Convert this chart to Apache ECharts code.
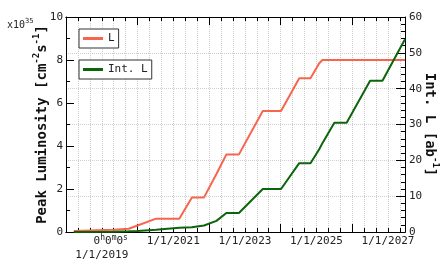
<!DOCTYPE html>
<html><head><meta charset="utf-8">
<script src="https://cdn.jsdelivr.net/npm/echarts@6/dist/echarts.min.js"></script>
<style>html,body{margin:0;padding:0;background:#fff}#c{width:447px;height:273px}</style>
</head><body><div id="c"></div>
<script>
// ---- data ----
const dates = ['2018-03-20','2019-05-05','2019-10-01','2020-01-01','2020-07-08','2021-03-01','2021-07-08','2021-11-10','2022-03-15','2022-06-25','2022-11-01','2023-07-01','2024-01-05','2024-07-08','2024-11-01','2025-01-30','2025-03-01','2025-07-01','2025-11-05','2026-07-01','2026-11-05','2027-06-22'];
const peakL = [0.05,0.10,0.15,0.30,0.62,0.62,1.61,1.61,2.70,3.61,3.61,5.63,5.63,7.15,7.15,7.85,8.00,8.00,8.00,8.00,8.00,8.00];
const intL  = [0.0,0.05,0.2,0.3,0.6,1.2,1.3,1.8,3.1,5.3,5.3,12.0,12.0,19.2,19.2,23.1,24.8,30.5,30.5,42.2,42.2,53.8];
const xStart = '2018-01-01';
const xEnd = '2027-06-22';
const xLabelYears = [2019, 2021, 2023, 2025, 2027];
const leftAxis = {min: 0, max: 10, interval: 2};
const rightAxis = {min: 0, max: 60, interval: 10};

const FONT = 'DejaVu Sans Mono';
function toMonths(s){
  const [y,m,d] = s.split('-').map(Number);
  const dim = new Date(Date.UTC(y, m, 0)).getUTCDate();
  return (y - 2019) * 12 + (m - 1) + (d - 1) / dim;
}
const xMin = toMonths(xStart), xMax = toMonths(xEnd);
const labelMonths = xLabelYears.map(y => (y - 2019) * 12);

const chart = echarts.init(document.getElementById('c'));
const axisLine = {show: true, onZero: false, lineStyle: {color: '#000', width: 1}};
const tickStyle = {color: '#000', width: 1};
const gridLine = {type: 'dotted', color: '#cfcfcf', width: 1};
const labRich = {
  t: {fontFamily: FONT, fontSize: 11, lineHeight: 14, color: '#222'},
  s: {fontFamily: FONT, fontSize: 8, lineHeight: 9, verticalAlign: 'top', color: '#222'},
  pad: {width: 18, fontSize: 11, lineHeight: 14}
};
function xFmt(v){
  const idx = labelMonths.findIndex(m => Math.abs(m - v) < 1e-6);
  if (idx < 0) return '';
  const y = xLabelYears[idx];
  if (idx === 0) return '{pad| }{t|0}{s|h}{t|0}{s|m}{t|0}{s|s}\n{t|1/1/' + y + '}';
  return '{t|1/1/' + y + '}';
}
function xAx(pos, interval, len, labels, split){
  return {
    type: 'value', position: pos, min: xMin, max: xMax, interval: interval,
    axisLine: axisLine,
    axisTick: {show: true, inside: true, length: len, lineStyle: tickStyle},
    axisLabel: labels ? {show: true, formatter: xFmt, rich: labRich, margin: 2, color: '#222'} : {show: false},
    splitLine: split ? {show: true, lineStyle: gridLine} : {show: false}
  };
}
const nameRich = {
  a: {fontFamily: FONT, fontSize: 14, fontWeight: 'bold', lineHeight: 20, color: '#111'},
  sup: {fontFamily: FONT, fontSize: 9, fontWeight: 'bold', lineHeight: 11, verticalAlign: 'top', color: '#111'}
};
const option = {
  animation: false,
  backgroundColor: '#fff',
  grid: {left: 66, right: 42, top: 17, bottom: 41, containLabel: false, outerBoundsMode: 'none'},
  legend: [
    {data: ['L'], left: 79, top: 29, orient: 'vertical', icon: 'rect', itemWidth: 20, itemHeight: 3,
     borderColor: '#333', borderWidth: 1, backgroundColor: '#fff', padding: [4, 4, 4, 4],
     textStyle: {fontFamily: FONT, fontSize: 11, color: '#222'}},
    {data: ['Int. L'], left: 79, top: 60, orient: 'vertical', icon: 'rect', itemWidth: 20, itemHeight: 3,
     borderColor: '#333', borderWidth: 1, backgroundColor: '#fff', padding: [4, 4, 4, 4],
     textStyle: {fontFamily: FONT, fontSize: 11, color: '#222'}}
  ],
  xAxis: [
    xAx('bottom', 4, 4, true, true),
    xAx('bottom', 24, 8, false, false),
    xAx('top', 4, 4, false, false),
    xAx('top', 24, 8, false, false)
  ],
  yAxis: [
    {type: 'value', position: 'left', min: leftAxis.min, max: leftAxis.max, interval: leftAxis.interval,
     axisLine: axisLine,
     axisTick: {show: true, inside: true, length: 8, lineStyle: tickStyle},
     minorTick: {show: true, splitNumber: 2, length: 4, lineStyle: tickStyle},
     axisLabel: {fontFamily: FONT, fontSize: 11, color: '#222', margin: 3},
     splitLine: {show: false},
     name: '{a|Peak Luminosity [cm}{sup|-2}{a|s}{sup|-1}{a|]}', nameLocation: 'middle', nameGap: 14, nameRotate: 90,
     nameMoveOverlap: false,
     nameTextStyle: {rich: nameRich}},
    {type: 'value', position: 'right', min: rightAxis.min, max: rightAxis.max, interval: rightAxis.interval,
     axisLine: axisLine,
     axisTick: {show: true, inside: true, length: 9, lineStyle: tickStyle},
     minorTick: {show: true, splitNumber: 5, length: 4, lineStyle: tickStyle},
     axisLabel: {fontFamily: FONT, fontSize: 11, color: '#222', margin: 4},
     splitLine: {show: true, lineStyle: gridLine},
     name: '{a|Int. L [ab}{sup|-1}{a|]}', nameLocation: 'middle', nameGap: 15, nameRotate: -90,
     nameMoveOverlap: false,
     nameTextStyle: {rich: nameRich}}
  ],
  graphic: [
    {type: 'text', left: 7, top: 18, style: {
      text: '{a|x10}{s|35}',
      rich: {
        a: {fontFamily: FONT, fontSize: 10, lineHeight: 14, fill: '#222'},
        s: {fontFamily: FONT, fontSize: 7, lineHeight: 8, verticalAlign: 'top', fill: '#222'}
      }}}
  ],
  series: [
    {type: 'line', name: 'L', xAxisIndex: 0, yAxisIndex: 0, symbol: 'none', showSymbol: false,
     data: dates.map((d, i) => [toMonths(d), peakL[i]]),
     lineStyle: {color: '#f8654f', width: 2}, itemStyle: {color: '#f8654f'}, z: 2},
    {type: 'line', name: 'Int. L', xAxisIndex: 0, yAxisIndex: 1, symbol: 'none', showSymbol: false,
     data: dates.map((d, i) => [toMonths(d), intL[i]]),
     lineStyle: {color: '#0b650b', width: 2}, itemStyle: {color: '#0b650b'}, z: 3}
  ]
};
chart.setOption(option);
</script></body></html>
